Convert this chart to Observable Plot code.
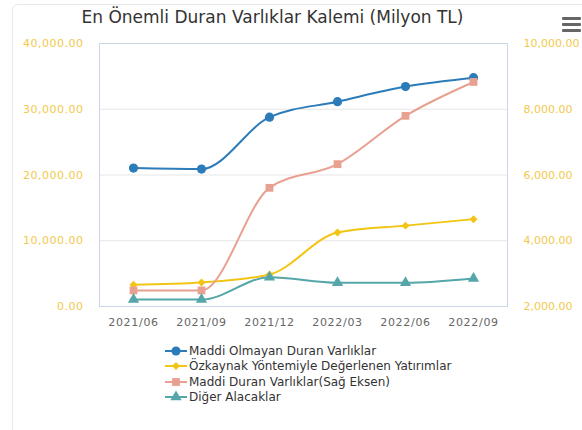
<!DOCTYPE html>
<html>
<head>
<meta charset="utf-8">
<script src="https://cdn.jsdelivr.net/npm/d3@7"></script>
<script src="https://cdn.jsdelivr.net/npm/@observablehq/plot@0.6"></script>
<style>
  html, body { margin: 0; padding: 0; background: #fff; width: 582px; height: 430px; overflow: hidden; }
  #card { position: absolute; left: 12px; top: 4px; width: 600px; height: 460px; border: 1px solid #e8e8e8; border-radius: 6px; box-sizing: border-box; }
  #title { position: absolute; left: 0; width: 545px; top: 7px; text-align: center; font-family: "DejaVu Sans", sans-serif; font-size: 17px; color: #333; white-space: nowrap; }
  #menu { position: absolute; left: 562px; top: 17px; width: 19px; }
  #menu div { height: 3px; background: #666; margin-bottom: 3px; border-radius: 1px; }
  #chart { position: absolute; left: 0; top: 0; }
  #chart svg g[aria-label="x-axis tick label"] text { letter-spacing: 0.7px; }
  #legend { position: absolute; left: 165px; top: 343px; font-family: "DejaVu Sans", sans-serif; font-size: 12px; color: #333; }
  #legend .item { height: 15.5px; display: flex; align-items: center; white-space: nowrap; }
  #legend svg { margin-right: 2px; flex: none; }
</style>
</head>
<body>
<div id="card"></div>
<div id="title">En Önemli Duran Varlıklar Kalemi (Milyon TL)</div>
<div id="menu"><div></div><div></div><div></div></div>
<div id="chart"></div>
<div id="legend"></div>
<script>
const periods = ["2021/06", "2021/09", "2021/12", "2022/03", "2022/06", "2022/09"];
const maddiOlmayan = [21050, 20900, 28800, 31150, 33450, 34800];
const ozkaynak = [3300, 3650, 4870, 11250, 12300, 13280];
const maddiDuran = [2490, 2490, 5610, 6330, 7800, 8830];      // right axis
const digerAlacaklar = [1050, 1050, 4450, 3600, 3600, 4250];

const seriesNames = [
  "Maddi Olmayan Duran Varlıklar",
  "Özkaynak Yöntemiyle Değerlenen Yatırımlar",
  "Maddi Duran Varlıklar(Sağ Eksen)",
  "Diğer Alacaklar"
];
const seriesColors = ["#2b7cb9", "#f2c514", "#e8a190", "#55a6a8"];
const seriesSymbols = ["circle", "diamond2", "square", "triangle"];
const seriesR = [4.6, 3.6, 4.4, 4.2];

const leftTicks = [0, 10000, 20000, 30000, 40000];
const rightTicks = [2000, 4000, 6000, 8000, 10000];

// right axis [2000,10000] mapped onto left axis [0,40000]
const rightToLeft = v => (v - 2000) * 5;
const leftToRight = v => v / 5 + 2000;
const fmt = d3.format(",.2f");

const seriesValues = [maddiOlmayan, ozkaynak, maddiDuran, digerAlacaklar];
const rows = [];
seriesValues.forEach((vals, s) => {
  vals.forEach((v, i) => {
    rows.push({ series: seriesNames[s], period: periods[i], value: s === 2 ? rightToLeft(v) : v, si: s });
  });
});

const marks = [
  Plot.gridY(leftTicks, { stroke: "#e6e6e6", strokeOpacity: 1 }),
  Plot.frame({ stroke: "#ccd6eb" }),
  Plot.axisY(leftTicks, { anchor: "left", tickSize: 0, tickPadding: 16, tickFormat: fmt, color: "#f2c94c", label: null, className: "yleft" }),
  Plot.axisY(rightTicks.map(rightToLeft), { anchor: "right", tickSize: 0, tickPadding: 16, tickFormat: d => fmt(leftToRight(d)), color: "#f2c94c", label: null, textAnchor: "start" }),
  Plot.axisX({ tickSize: 0, tickPadding: 12, color: "#666", label: null })
];
seriesNames.forEach((name, s) => {
  const data = rows.filter(r => r.si === s);
  marks.push(Plot.line(data, { x: "period", y: "value", stroke: seriesColors[s], strokeWidth: 2, curve: "monotone-x" }));
});
seriesNames.forEach((name, s) => {
  const data = rows.filter(r => r.si === s);
  marks.push(Plot.dot(data, { x: "period", y: "value", fill: seriesColors[s], symbol: seriesSymbols[s], r: seriesR[s], stroke: null }));
});

const chart = Plot.plot({
  width: 582,
  height: 332,
  marginLeft: 99,
  marginRight: 75,
  marginTop: 43,
  marginBottom: 26,
  style: { fontFamily: "DejaVu Sans, sans-serif", fontSize: "11px", background: "transparent", overflow: "visible" },
  x: { type: "point", domain: periods, padding: 0.5 },
  y: { domain: [0, 40000] },
  marks
});
document.getElementById("chart").appendChild(chart);
// widen only the left-axis labels slightly
const yLabelGroups = chart.querySelectorAll('g[aria-label="y-axis tick label"]');
if (yLabelGroups.length) yLabelGroups[0].setAttribute("letter-spacing", "0.5");

// legend
const legend = d3.select("#legend");
seriesNames.forEach((name, s) => {
  const item = legend.append("div").attr("class", "item");
  const svg = item.append("svg").attr("width", 22).attr("height", 12);
  svg.append("line").attr("x1", 0).attr("x2", 22).attr("y1", 6).attr("y2", 6).attr("stroke", seriesColors[s]).attr("stroke-width", 2);
  const symType = { circle: d3.symbolCircle, diamond2: d3.symbolDiamond2, square: d3.symbolSquare, triangle: d3.symbolTriangle }[seriesSymbols[s]];
  svg.append("path").attr("transform", "translate(11,6)").attr("d", d3.symbol(symType, Math.PI * seriesR[s] * seriesR[s])()).attr("fill", seriesColors[s]);
  item.append("span").text(name);
});
</script>
</body>
</html>
